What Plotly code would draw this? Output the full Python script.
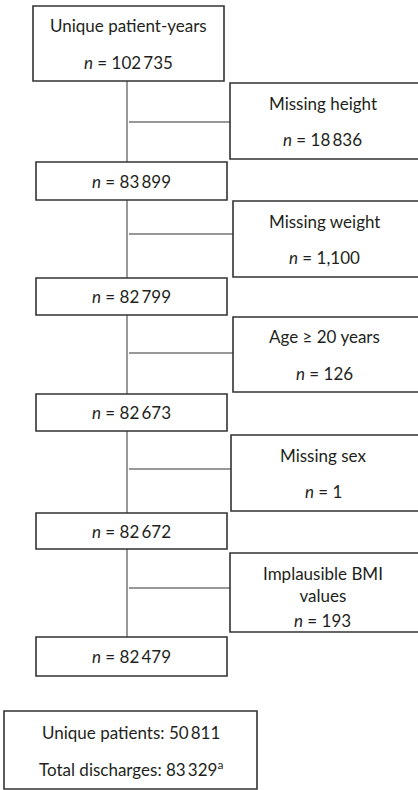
import plotly.graph_objects as go

# ---- data ----
start_label = "Unique patient-years"
start_count = "102\u2009735"
remaining_counts = ["83\u2009899", "82\u2009799", "82\u2009673", "82\u2009672", "82\u2009479"]
excl_labels = ["Missing height", "Missing weight", "Age \u2265 20 years", "Missing sex",
               "Implausible BMI<br>values"]
excl_counts = ["18\u2009836", "1,100", "126", "1", "193"]
summary_lines = ["Unique patients: 50\u2009811", "Total discharges: 83\u2009329<sup>a</sup>"]

# ---- layout geometry (pixels) ----
W, H = 418, 790
top_box = (33, 224, 6, 81)
main_x = (36, 227)
main_y = [(162, 200), (278, 315), (394, 431), (513, 549), (637, 676)]
side_x0 = [230, 233, 233, 231, 230]
side_y = [(83, 159), (201, 277), (317, 392), (435, 511), (553, 632)]
conn_y = [122, 234, 353, 469, 588]
spine_x = 127
bottom_box = (4, 257, 711, 789)

FONT = "Lato, 'Open Sans', sans-serif"
FS = 17
TXT = "#231f20"
BOX = dict(color="#333333", width=1.6)
THIN = dict(color="#333333", width=1)

fig = go.Figure()
shapes = []
ann = []

def box(x0, x1, y0, y1):
    shapes.append(dict(type="rect", x0=x0, x1=x1, y0=y0, y1=y1, xref="x", yref="y",
                       line=BOX, fillcolor="white", layer="above"))

def line(x0, y0, x1, y1):
    shapes.append(dict(type="line", x0=x0, x1=x1, y0=y0, y1=y1, xref="x", yref="y",
                       line=THIN, layer="below"))

def text(x, y, s):
    ann.append(dict(x=x, y=y, xref="x", yref="y", text=s, showarrow=False,
                    font=dict(family=FONT, size=FS, color=TXT),
                    xanchor="center", yanchor="middle"))

# spine
line(spine_x, top_box[3], spine_x, main_y[-1][0])

# top box
box(*top_box)
cx = (top_box[0] + top_box[1]) / 2
cy = (top_box[2] + top_box[3]) / 2
text(cx, cy - 18.5, start_label)
text(cx, cy + 18.5, "<i>n</i> = " + start_count)

# main boxes
mcx = (main_x[0] + main_x[1]) / 2
for (y0, y1), c in zip(main_y, remaining_counts):
    box(main_x[0], main_x[1], y0, y1)
    text(mcx, (y0 + y1) / 2, "<i>n</i> = " + c)

# exclusion boxes
for x0, (y0, y1), cyc, lab, c in zip(side_x0, side_y, conn_y, excl_labels, excl_counts):
    box(x0, W + 10, y0, y1)
    line(spine_x + 2, cyc, x0, cyc)
    scx = (x0 + 417) / 2 - 1
    m = (y0 + y1) / 2
    if "<br>" in lab:
        text(scx, m - 8, lab)
        text(scx, y1 - 12, "<i>n</i> = " + c)
    else:
        text(scx, m - 18, lab)
        text(scx, m + 18.5, "<i>n</i> = " + c)

# summary box
box(*bottom_box)
bcx = (bottom_box[0] + bottom_box[1]) / 2
bcy = (bottom_box[2] + bottom_box[3]) / 2
text(bcx, bcy - 18, summary_lines[0])
text(bcx, bcy + 18, summary_lines[1])

fig.update_layout(
    width=W, height=H, margin=dict(l=0, r=0, t=0, b=0),
    paper_bgcolor="white", plot_bgcolor="white",
    xaxis=dict(range=[0, W], visible=False, fixedrange=True),
    yaxis=dict(range=[H, 0], visible=False, fixedrange=True),
    shapes=shapes, annotations=ann, showlegend=False,
)
fig.write_html("out.html", config={"displayModeBar": False},
               post_script="document.body.style.margin='0';document.body.style.overflow='hidden';")
